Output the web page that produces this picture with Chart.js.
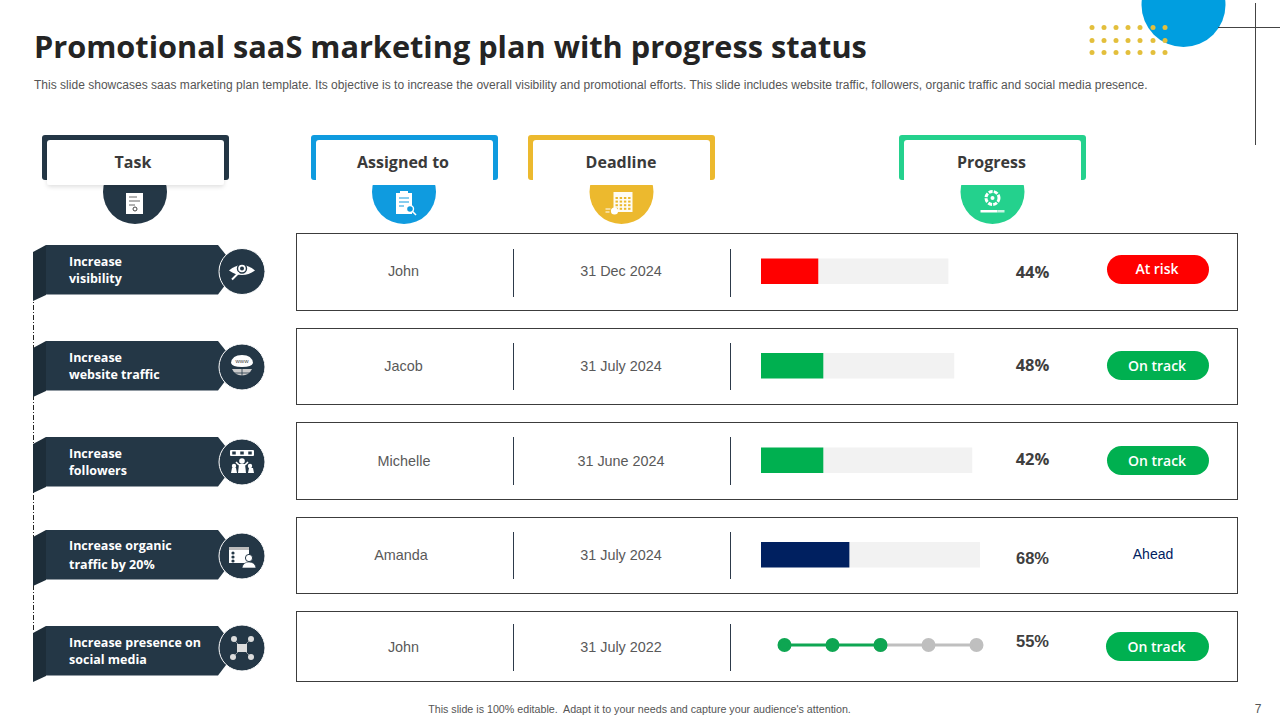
<!DOCTYPE html>
<html><head><meta charset="utf-8">
<script src="https://cdn.jsdelivr.net/npm/chart.js@4"></script>
<style>
html,body{margin:0;padding:0;background:#fff}
#s{position:relative;width:1280px;height:720px;overflow:hidden;background:#fff;font-family:"Liberation Sans",Arial,sans-serif}
#s>*{position:absolute}
.t{white-space:nowrap}
.c{transform:translate(-50%,-50%)}
.v{transform:translateY(-50%)}
canvas{display:block}
</style></head><body><div id="s"></div>
<script>
// ---- chart data ----
const tasks=[["Increase","visibility"],["Increase","website traffic"],["Increase","followers"],["Increase organic","traffic by 20%"],["Increase presence on","social media"]];
const assignees=["John","Jacob","Michelle","Amanda","John"];
const deadlines=["31 Dec 2024","31 July 2024","31 June 2024","31 July 2024","31 July 2022"];
const percents=["44%","48%","42%","68%","55%"];
const statuses=["At risk","On track","On track","Ahead","On track"];
const headers=["Task","Assigned to","Deadline","Progress"];
const barRows=["Increase visibility","Increase website traffic","Increase followers","Increase organic traffic by 20%"];
const barDone=[26,28.3,28.3,40.2];
const barRest=[59.4,59.8,68,59.8];
const barColors=["#ff0000","#00b050","#00b050","#002060"];
const stepLabels=["1","2","3","4","5"];
const stepsDone=[1,1,1,null,null];
const stepsRest=[null,null,1,1,1];

// ---- layout ----
const S=document.getElementById('s');
function add(html){const d=document.createElement('div');d.innerHTML=html;const e=d.firstElementChild;S.appendChild(e);return e}
function text(str,x,y,css,cls){return add(`<div class="t ${cls||'c'}" style="left:${x}px;top:${y}px;${css}">${str}</div>`)}
const OS='font-family:\'Open Sans\',sans-serif;';
const DARK='#243746';

const boxes=[[233,311],[328,405],[422,500],[517,594],[611,682]];
const dividers=[[249,297],[343,390],[437,485],[532,579],[624,671]];
const ribbons=[245,341,437,530,626];
const circleY=[271.5,367,462,556,648];
const headX=[42,311,528,899];
const headC=[DARK,'#0f9bdf','#ecb92e','#24d18d'];
const headCircleX=[135,404,621.5,992.5];

const icons={
 doc:(x,y)=>`<rect x="${x-9}" y="${y-10}" width="17" height="21" fill="#fff"/><path d="M${x-6} ${y-6}h8M${x-6} ${y-2}h11M${x-6} ${y+2}h6" stroke="#666" stroke-width="1"/><circle cx="${x}" cy="${y+6}" r="2" fill="none" stroke="#444"/>`,
 clip:(x,y)=>`<rect x="${x-8}" y="${y-10}" width="16" height="21" fill="#fff"/><rect x="${x-4}" y="${y-12}" width="8" height="3" fill="#fff"/><path d="M${x-5} ${y-5}h10M${x-5} ${y-1}h10M${x-5} ${y+3}h5" stroke="#0f9bdf" stroke-width="1"/><circle cx="${x+6}" cy="${y+6}" r="3.5" fill="#0f9bdf" stroke="#fff" stroke-width="1.4"/><path d="M${x+8} ${y+8}l4 4" stroke="#fff" stroke-width="1.6"/>`,
 cal:(x,y)=>{let g=`<rect x="${x-8}" y="${y-11}" width="19" height="20" fill="#fff" opacity=".95"/>`;for(let i=0;i<4;i++)for(let j=0;j<4;j++)g+=`<rect x="${x-6+i*4.2}" y="${y-6+j*3.6}" width="2.4" height="2" fill="#ecb92e"/>`;return g+`<circle cx="${x-7}" cy="${y+8}" r="3.6" fill="#fff"/><path d="M${x-16} ${y+6}h5M${x-16} ${y+9}h4" stroke="#fff"/>`},
 gear:(x,y)=>`<circle cx="${x}" cy="${y-5}" r="6.5" fill="none" stroke="#fff" stroke-width="3" stroke-dasharray="4 1.2"/><circle cx="${x}" cy="${y-5}" r="2" fill="#fff"/><rect x="${x-12}" y="${y+7}" width="17" height="2.5" fill="#fff"/><rect x="${x+5}" y="${y+7}" width="7" height="2.5" fill="#c8f5e4"/>`,
 eye:(x,y)=>`<path d="M${x-13} ${y-1}Q${x} ${y-12} ${x+13} ${y-1}Q${x} ${y+8} ${x-13} ${y-1}Z" fill="#fff"/><circle cx="${x}" cy="${y-3}" r="4.5" fill="#fff" stroke="${DARK}" stroke-width="1.4"/><circle cx="${x}" cy="${y-3}" r="2" fill="${DARK}"/><path d="M${x-3} ${y+1}L${x-10} ${y+8}" stroke="#fff" stroke-width="2"/>`,
 www:(x,y)=>`<path d="M${x-11} ${y-4}Q${x-10} ${y-12} ${x} ${y-12}Q${x+10} ${y-12} ${x+11} ${y-4}Q${x+10} ${y} ${x} ${y}Q${x-10} ${y} ${x-11} ${y-4}Z" fill="#fff"/><text x="${x}" y="${y-4}" font-size="6" text-anchor="middle" fill="#444">www</text><path d="M${x-10} ${y+1}A11 11 0 0 0 ${x+10} ${y+1}Z" fill="#ccc" transform="translate(0 1)"/><path d="M${x} ${y+2}v10M${x-9} ${y+6}h18" stroke="${DARK}" stroke-width=".8"/>`,
 fol:(x,y)=>`<rect x="${x-12}" y="${y-12}" width="24" height="6" rx="1" fill="#fff"/><path d="M${x-8} ${y-10.5}v3M${x} ${y-10.5}v3M${x+8} ${y-10.5}v3" stroke="${DARK}" stroke-width="3.5"/><circle cx="${x}" cy="${y-1}" r="2.8" fill="#fff"/><path d="M${x-4} ${y+11}L${x-3} ${y+2}H${x+3}L${x+4} ${y+11}Z" fill="#fff"/><path d="M${x-3} ${y+3}L${x-6} ${y}M${x+3} ${y+3}L${x+6} ${y}" stroke="#fff" stroke-width="1.6"/><circle cx="${x-8}" cy="${y+4}" r="2.2" fill="#fff"/><circle cx="${x+8}" cy="${y+4}" r="2.2" fill="#fff"/><path d="M${x-11} ${y+11}l1-5h4l1 5ZM${x+6} ${y+11}l1-5h4l1 5Z" fill="#fff"/>`,
 org:(x,y)=>`<rect x="${x-13}" y="${y-9}" width="20" height="16" fill="#fff"/><rect x="${x-13}" y="${y-9}" width="20" height="3" fill="#bbb"/><circle cx="${x-9}" cy="${y-3}" r="1.6" fill="${DARK}"/><circle cx="${x-9}" cy="${y+1}" r="1.6" fill="${DARK}"/><circle cx="${x-9}" cy="${y+5}" r="1.6" fill="${DARK}"/><circle cx="${x+7}" cy="${y+2}" r="3.6" fill="#fff" stroke="${DARK}"/><path d="M${x} ${y+12}q1-6 7-6t7 6Z" fill="#fff" stroke="${DARK}" stroke-width=".6"/>`,
 soc:(x,y)=>`<path d="M${x-8} ${y-8}L${x+8} ${y+8}M${x+8} ${y-8}L${x-8} ${y+8}" stroke="#ccc" stroke-width=".6"/><rect x="${x-5}" y="${y-4}" width="10" height="8" fill="#ddd"/><circle cx="${x-8}" cy="${y-9}" r="3" fill="#ddd"/><circle cx="${x+9}" cy="${y-9}" r="3" fill="#ddd"/><circle cx="${x-9}" cy="${y+9}" r="3" fill="#ddd"/><circle cx="${x+9}" cy="${y+9}" r="3" fill="#ddd"/>`
};
const headIcons=['doc','clip','cal','gear'];
const rowIcons=['eye','www','fol','org','soc'];

let g='';
g+=`<circle cx="1183.5" cy="5" r="42" fill="#009ee0"/>`;
[27.5,40.5,52.5].forEach(y=>[1092,1104,1116,1128,1140,1153,1165].forEach(x=>{g+=`<circle cx="${x}" cy="${y}" r="2.5" fill="#e3bf3c"/>`}));
g+=`<path d="M1218 27.5H1280M1255.5 3V145" stroke="#444" stroke-width="1"/>`;
g+=`<path d="M33.5 295V630" stroke="#222" stroke-width="1" stroke-dasharray="5 2 1 2"/>`;
headers.forEach((h,i)=>{
 const x=headX[i],cx=headCircleX[i];
 g+=`<circle cx="${cx}" cy="192" r="32" fill="${headC[i]}"/>`;
 g+=`<rect x="${x}" y="135" width="187" height="45" rx="3" fill="${headC[i]}"/>`;
 g+=`<rect x="${x+5}" y="140" width="177" height="45" rx="3" fill="#fff" ${i==0?'filter="url(#sh)"':''}/>`;
 g+=icons[headIcons[i]](cx,203);
});
boxes.forEach((b,i)=>{
 g+=`<rect x="296.5" y="${b[0]+.5}" width="941" height="${b[1]-b[0]-1}" fill="#fff" stroke="#3c3c3c" stroke-width="1"/>`;
 g+=`<path d="M513.5 ${dividers[i][0]}V${dividers[i][1]}M730.5 ${dividers[i][0]}V${dividers[i][1]}" stroke="#2d3a4a" stroke-width="1"/>`;
});
ribbons.forEach((y,i)=>{
 g+=`<path d="M33 ${y+7}L46 ${y}V${y+50}L33 ${y+56}Z" fill="#1d2d39"/>`;
 g+=`<path d="M46 ${y}H218L226 ${y+10}V${y+39}L218 ${y+49.5}H46Z" fill="${DARK}"/>`;
 g+=`<circle cx="242" cy="${circleY[i]}" r="23" fill="${DARK}" stroke="#fff" stroke-width="1"/>`;
 g+=icons[rowIcons[i]](242,circleY[i]);
});
add(`<svg width="1280" height="720" style="left:0;top:0"><defs><filter id="sh" x="-5%" y="-10%" width="110%" height="130%"><feDropShadow dx="0" dy="2" stdDeviation="2" flood-color="#000" flood-opacity=".12"/></filter></defs>${g}</svg>`);

// text
text('Promotional saaS marketing plan with progress status',34,46,OS+'font-weight:700;font-size:30.7px;color:#242424','v');
text('This slide showcases saas marketing plan template. Its objective is to increase the overall visibility and promotional efforts. This slide includes website traffic, followers, organic traffic and social media presence.',34,85,'font-size:12px;color:#555;letter-spacing:.018px','v');
text('This slide is 100% editable.  Adapt it to your needs and capture your audience\'s attention.',639.5,709,'font-size:10.7px;color:#555;white-space:pre');
text('7',1258,708.5,'font-size:12px;color:#555');
const headTextX=[133,403,621,991.5];
headers.forEach((h,i)=>text(h,headTextX[i],162,OS+'font-weight:700;font-size:16px;color:#3a3a3a'));
const taskLine=[[260.5,277.5],[356.5,373.5],[452.5,469.5],[544.5,563.5],[641.5,658.5]];
tasks.forEach((t,i)=>t.forEach((l,j)=>text(l,69,taskLine[i][j],OS+'font-weight:700;font-size:12.5px;color:#fff','v')));
const nameX=[403.5,403.5,404,401,403.5],rowY=[270.5,365.5,460.5,554.5,646.5];
assignees.forEach((a,i)=>text(a,nameX[i],rowY[i],'font-size:14.4px;color:#595959'));
deadlines.forEach((d,i)=>text(d,621,rowY[i],'font-size:14.4px;color:#595959'));
const pctY=[271,364,458,558,641];
percents.forEach((p,i)=>text(p,1032.5,pctY[i],(i<3?OS:'')+'font-weight:700;font-size:16.5px;color:#3f3f3f'));
const pillY=[255,351,446,null,632],pillL=[1107,1107,1107,null,1106],pillTextY=[267.5,364.5,459.5,null,645.5];
statuses.forEach((s,i)=>{
 if(pillY[i]===null){text(s,1153,553.5,'font-size:14px;color:#002060');return}
 add(`<div style="left:${pillL[i]}px;top:${pillY[i]}px;width:${1209-pillL[i]}px;height:29px;border-radius:15px;background:${s=='At risk'?'#ff0000':'#00b050'}"></div>`);
 text(s,(pillL[i]+1209)/2-1,pillTextY[i],OS+'font-weight:600;font-size:14px;color:#fff');
});

// ---- charts ----
function canvas(l,t,w,h){return add(`<canvas width="${w}" height="${h}" style="left:${l}px;top:${t}px;width:${w}px;height:${h}px"></canvas>`)}
const base={responsive:false,animation:false,plugins:{legend:{display:false},tooltip:{enabled:false}}};
new Chart(canvas(761,224,219,378),{type:'bar',data:{labels:barRows,datasets:[
 {data:barDone,backgroundColor:barColors,barThickness:25,stack:'a'},
 {data:barRest,backgroundColor:'#f2f2f2',barThickness:25,stack:'a'}]},
 options:{...base,indexAxis:'y',scales:{x:{display:false,stacked:true,min:0,max:100},y:{display:false,stacked:true}}}});
new Chart(canvas(774,624.5,213,40),{type:'line',data:{labels:stepLabels,datasets:[
 {data:stepsDone,borderColor:'#0ea652',backgroundColor:'#0ea652',borderWidth:3,pointRadius:5.5,pointHoverRadius:5.5,spanGaps:false},
 {data:stepsRest,borderColor:'#bfbfbf',backgroundColor:'#bfbfbf',borderWidth:3,pointRadius:5.5,pointHoverRadius:5.5,spanGaps:false}]},
 options:{...base,layout:{padding:{left:10.5,right:10.5}},scales:{x:{display:false},y:{display:false,min:0,max:2}}}});
</script></body></html>
